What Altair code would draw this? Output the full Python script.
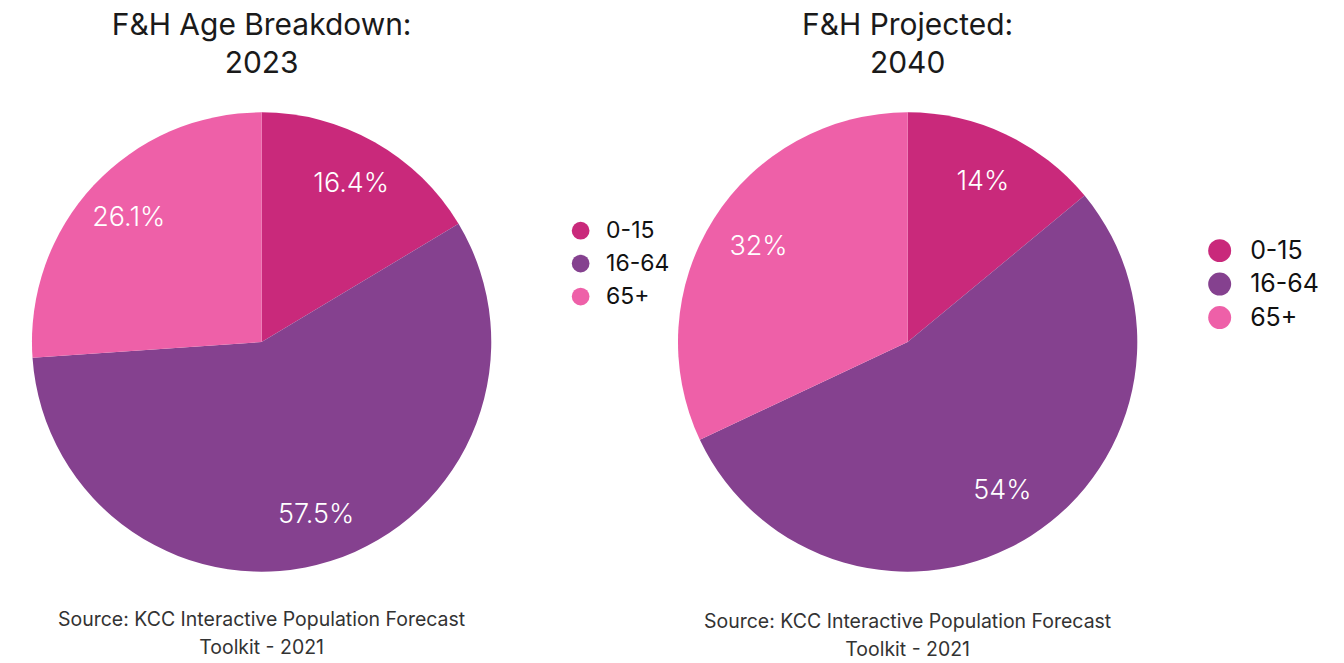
import altair as alt
import pandas as pd

groups = ["0-15", "16-64", "65+"]
colors = ["#C9297B", "#85418F", "#EE60A8"]
order_idx = [0, 1, 2]

values_2023 = [16.4, 57.5, 26.1]
labels_2023 = ["16.4%", "57.5%", "26.1%"]
values_2040 = [14, 54, 32]
labels_2040 = ["14%", "54%", "32%"]

title_2023 = "F&H Age Breakdown:\n2023"
title_2040 = "F&H Projected:\n2040"
source_text = "Source: KCC Interactive Population Forecast\nToolkit - 2021"

FONT = "Inter"
PH = 647
CY = 334


def panel(values, labels, title, pw, cx, leg_x, leg_y, sym_size, leg_font, row_pad, lab_off, text_r, src_y):
    df = pd.DataFrame({"group": groups, "value": values, "label": labels, "order": order_idx})
    base = alt.Chart(df).encode(
        theta=alt.Theta("value:Q", stack=True),
        order=alt.Order("order:Q"),
        x=alt.value(cx),
        y=alt.value(CY),
    )
    pie = base.mark_arc(radius=230).encode(
        color=alt.Color(
            "group:N",
            scale=alt.Scale(domain=groups, range=colors),
            sort=groups,
            legend=alt.Legend(
                orient="none", legendX=leg_x, legendY=leg_y, title=None,
                symbolType="circle", symbolSize=sym_size, symbolStrokeWidth=0,
                symbolOpacity=1, labelFontSize=leg_font, labelFont=FONT,
                labelColor="#111111", rowPadding=row_pad, padding=0,
                labelOffset=lab_off,
            ),
        )
    )
    txt = base.mark_text(radius=text_r, font=FONT, fontSize=27, fontWeight=300, color="white").encode(
        text="label:N"
    )
    tdf = pd.DataFrame({"t": [title]})
    ttl = alt.Chart(tdf).mark_text(
        font=FONT, fontSize=30, color="#1a1a1a", lineBreak="\n", lineHeight=38,
        baseline="alphabetic", align="center"
    ).encode(text="t:N", x=alt.value(cx), y=alt.value(27))
    sdf = pd.DataFrame({"t": [source_text]})
    src = alt.Chart(sdf).mark_text(
        font=FONT, fontSize=19.5, color="#333333", lineBreak="\n", lineHeight=28,
        baseline="alphabetic", align="center"
    ).encode(text="t:N", x=alt.value(cx), y=alt.value(src_y))
    return alt.layer(pie, txt, ttl, src).properties(width=pw, height=PH)


left = panel(values_2023, labels_2023, title_2023, 670, 254, 562, 211, 314, 23, 9, 14, 182, 618)
right = panel(values_2040, labels_2040, title_2040, 660, 231, 531, 230, 530, 25, 7.5, 18, 177, 620)

chart = (
    alt.hconcat(left, right, spacing=0)
    .resolve_scale(color="independent")
    .resolve_legend(color="independent")
    .properties(padding=0)
    .configure_view(stroke=None)
)

chart.save("out.html", embed_options={"renderer": "svg", "actions": False})
